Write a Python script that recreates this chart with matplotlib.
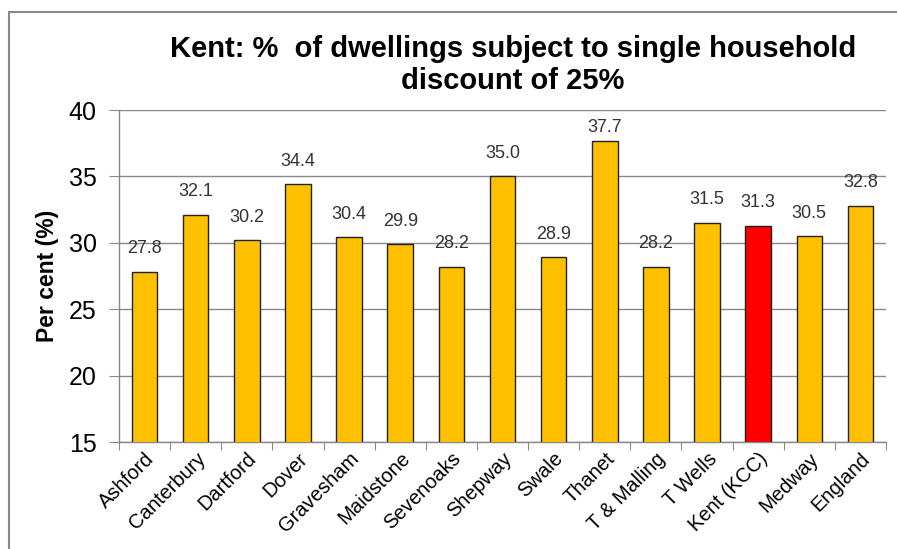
import matplotlib.pyplot as plt
from matplotlib.patches import Rectangle

# Areas and share of dwellings with the 25% single person discount
areas = ["Ashford", "Canterbury", "Dartford", "Dover", "Gravesham", "Maidstone",
         "Sevenoaks", "Shepway", "Swale", "Thanet", "T & Malling", "T Wells",
         "Kent (KCC)", "Medway", "England"]
pct = [27.8, 32.1, 30.2, 34.4, 30.4, 29.9, 28.2, 35.0, 28.9, 37.7, 28.2, 31.5,
       31.3, 30.5, 32.8]
yticks = [15, 20, 25, 30, 35, 40]

plt.rcParams['font.family'] = ['Liberation Sans', 'DejaVu Sans']

colors = ["#FF0000" if a == "Kent (KCC)" else "#FFC000" for a in areas]

fig = plt.figure(figsize=(8.97, 5.49), dpi=100)
ax = fig.add_axes([119/897, 1 - 442/549, (886-119)/897, (442-110)/549])

x = range(len(areas))
bars = ax.bar(x, pct, width=0.5, color=colors, edgecolor="#222222",
              linewidth=1.0, zorder=3)
# value labels above bars, kept inside the plot area near the top
for xi, v in zip(x, pct):
    ax.text(xi, min(v + 1.1, 38.05), f"{v:.1f}", ha="center", va="bottom",
            fontsize=13, color="#333333", zorder=4)

ax.set_xlim(-0.5, len(areas) - 0.5)
ax.set_ylim(15, 40)
ax.set_yticks(yticks)
ax.tick_params(axis="y", labelsize=18, length=7, color="#888888", pad=9)
ax.yaxis.grid(True, color="#888888", linewidth=1.0, zorder=0)

# category ticks sit between bars
ax.set_xticks([i + 0.5 for i in range(-1, len(areas))], minor=False)
ax.set_xticklabels([])
ax.tick_params(axis="x", length=6, color="#888888")
ax.set_xticks(list(x), minor=True)
ax.set_xticklabels(areas, minor=True, rotation=45, ha="right",
                   rotation_mode="anchor", fontsize=14.5)
ax.tick_params(axis="x", which="minor", length=0, pad=5)

for s in ["top", "right"]:
    ax.spines[s].set_visible(False)
for s in ["left", "bottom"]:
    ax.spines[s].set_color("#888888")
    ax.spines[s].set_linewidth(1.0)

ax.set_ylabel("Per cent (%)", fontsize=16.5, fontweight="bold")
ax.yaxis.set_label_coords(-60/767, 0.5)

fig.text(513/897, 1 - 65/549,
         "Kent: %  of dwellings subject to single household\ndiscount of 25%",
         ha="center", va="center", fontsize=21, fontweight="bold",
         linespacing=1.15)

# chart area border
fig.patches.append(Rectangle((9/897, -0.05), 1.0, 1 - 12/549 + 0.05,
                             transform=fig.transFigure, fill=False,
                             edgecolor="#888888", linewidth=1.5))

fig.savefig("out.png", dpi=100)
